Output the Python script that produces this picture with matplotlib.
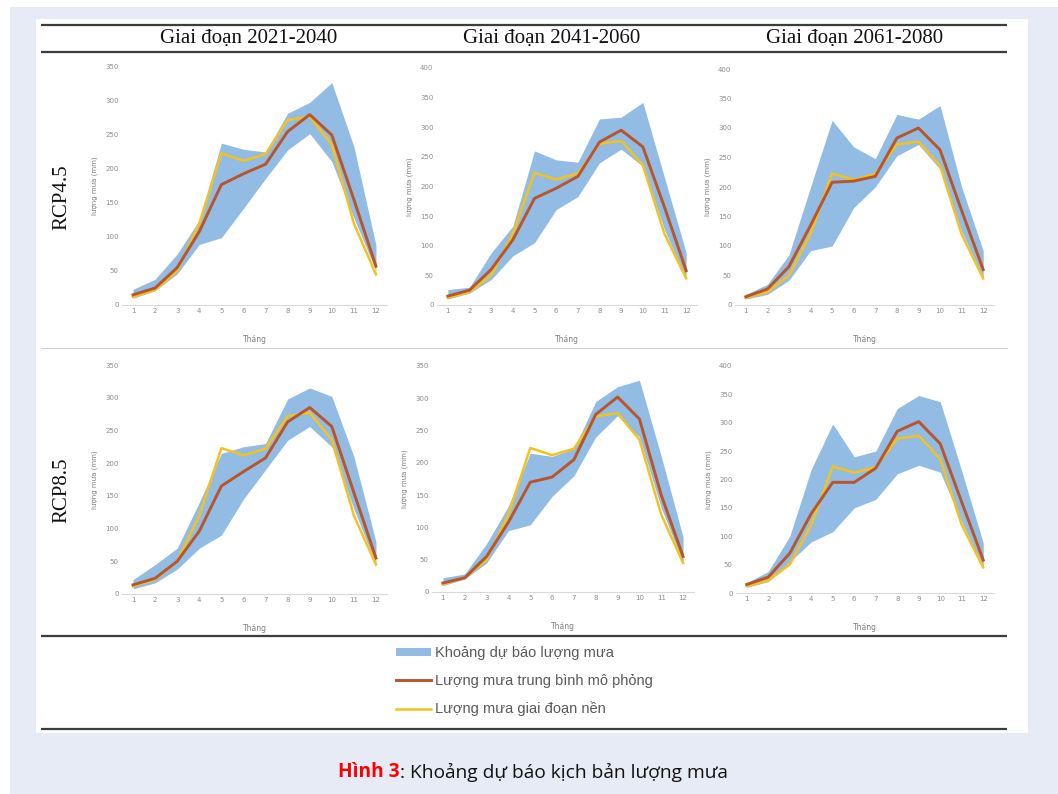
import matplotlib
matplotlib.use("Agg")
from matplotlib import pyplot as plt

W, H = 1058, 794

months = list(range(1, 13))
periods = ["Giai đoạn 2021-2040", "Giai đoạn 2041-2060", "Giai đoạn 2061-2080"]
scenarios = ["RCP4.5", "RCP8.5"]

# baseline rainfall (same in all panels)
baseline = [12, 22, 50, 120, 223, 212, 222, 272, 277, 236, 120, 45]

# RCP4.5
lo_45_a = [10, 21, 46, 89, 99, 142, 186, 228, 252, 211, 128, 50]
hi_45_a = [23, 38, 75, 125, 238, 229, 225, 282, 298, 327, 233, 88]
mean_45_a = [15, 25, 55, 108, 177, 193, 207, 255, 280, 250, 155, 57]

lo_45_b = [10, 20, 43, 83, 105, 161, 183, 240, 263, 234, 127, 43]
hi_45_b = [26, 30, 88, 133, 260, 245, 241, 314, 317, 342, 215, 88]
mean_45_b = [15, 25, 60, 110, 180, 197, 217, 275, 295, 267, 165, 58]

lo_45_c = [10, 18, 42, 92, 100, 165, 200, 253, 272, 230, 125, 45]
hi_45_c = [18, 35, 85, 200, 313, 268, 248, 323, 315, 338, 200, 92]
mean_45_c = [14, 27, 65, 135, 208, 210, 218, 283, 300, 263, 160, 60]

# RCP8.5
lo_85_a = [8, 17, 38, 70, 90, 145, 190, 235, 256, 225, 130, 45]
hi_85_a = [22, 45, 70, 140, 215, 225, 230, 298, 315, 302, 210, 80]
mean_85_a = [14, 24, 50, 96, 165, 187, 208, 263, 285, 256, 155, 55]

lo_85_b = [10, 20, 45, 95, 104, 148, 180, 240, 273, 240, 130, 45]
hi_85_b = [22, 28, 75, 133, 215, 210, 222, 295, 318, 328, 210, 85]
mean_85_b = [14, 22, 55, 108, 170, 178, 205, 275, 302, 268, 150, 55]

lo_85_c = [10, 20, 55, 90, 108, 150, 165, 210, 225, 213, 125, 45]
hi_85_c = [18, 38, 100, 218, 298, 240, 250, 325, 348, 337, 215, 88]
mean_85_c = [15, 28, 70, 140, 195, 195, 220, 285, 302, 263, 160, 58]

panels = [
    # (lo, hi, mean, ymax, x_left, x_right, y_bottom, y_top) in pixels
    (lo_45_a, hi_45_a, mean_45_a, 350, 122, 387, 305, 67),
    (lo_45_b, hi_45_b, mean_45_b, 400, 437, 697, 305, 68),
    (lo_45_c, hi_45_c, mean_45_c, 400, 735, 994, 305, 69),
    (lo_85_a, hi_85_a, mean_85_a, 350, 122, 387, 594, 365),
    (lo_85_b, hi_85_b, mean_85_b, 350, 432, 694, 592, 366),
    (lo_85_c, hi_85_c, mean_85_c, 400, 736, 994, 593, 366),
]

band_c = "#92bce4"
mean_c = "#b8552a"
base_c = "#f4c21f"
tick_c = "#8c8c8c"


def box(x0, y0, x1, y1):
    return [x0 / W, 1 - y1 / H, (x1 - x0) / W, (y1 - y0) / H]


fig = plt.figure(figsize=(W / 100, H / 100), dpi=100, facecolor="white")

# page background and layout, drawn in pixel coordinates
bg = fig.add_axes([0, 0, 1, 1], zorder=-5)
bg.set_xlim(0, W), bg.set_ylim(H, 0)
bg.axis("off")
bg.add_patch(plt.Rectangle((10, 7), W - 10, H - 7, color="#e7ebf6", lw=0))
bg.add_patch(plt.Rectangle((36, 19), 992, 714, color="white", lw=0))
for yy in [25, 52, 636, 729]:
    bg.plot([41, 1007], [yy, yy], color="#3c3c3c", lw=1.6, solid_capstyle="butt")
bg.plot([41, 1007], [348, 348], color="#cfcfcf", lw=0.8)

for i, p in enumerate(periods):
    bg.text([249, 552, 855][i], 38, p, family="Liberation Serif", fontsize=15,
            ha="center", va="center", color="#111111")
for i, s in enumerate(scenarios):
    bg.text(62, [197, 490][i], s, family="Liberation Serif", fontsize=15,
            rotation=90, ha="center", va="center", color="#111111")

handles = None
for lo, hi, mean, ymax, xl, xr, yb, yt in panels:
    ax = fig.add_axes(box(xl, yt, xr, yb))
    ax.patch.set_alpha(0)
    band = ax.fill_between(months, lo, hi, color=band_c, lw=0)
    l_base, = ax.plot(months, baseline, color=base_c, lw=1.8)
    l_mean, = ax.plot(months, mean, color=mean_c, lw=2.1)
    handles = [band, l_mean, l_base]

    ax.set_xlim(0.5, 12.5)
    ax.set_ylim(0, ymax)
    ax.set_xticks(months)
    ax.set_yticks(range(0, ymax + 1, 50))
    ax.tick_params(length=0, labelsize=5, labelcolor=tick_c, pad=2.5)
    for side in ["top", "right", "left"]:
        ax.spines[side].set_visible(False)
    ax.spines["bottom"].set_color("#d9d9d9")
    ax.spines["bottom"].set_linewidth(0.8)

    ax.set_xlabel("Tháng", fontsize=5.5, color="#7f7f7f")
    ax.xaxis.set_label_coords(0.5, -30 / (yb - yt))
    ax.set_ylabel("lượng mưa (mm)", fontsize=5, color="#7f7f7f")
    ax.yaxis.set_label_coords(-24 / (xr - xl), 0.5)

fig.legend(handles, ["Khoảng dự báo lượng mưa", "Lượng mưa trung bình mô phỏng",
                     "Lượng mưa giai đoạn nền"],
           loc="upper left", bbox_to_anchor=(390 / W, 1 - 640 / H),
           frameon=False, prop={"family": "Liberation Sans", "size": 10.5},
           labelcolor="#595959", handlelength=2.4, handleheight=0.5,
           handletextpad=0.3, labelspacing=0.95, borderaxespad=0)

# caption: red bold figure number followed by normal text
t1 = fig.text(338 / W, 1 - 772 / H, "Hình 3", family="Open Sans", fontsize=13.8,
              weight="bold", color="#ff0000", ha="left", va="center")
fig.canvas.draw()
ext = t1.get_window_extent()
fig.text(ext.x1 / W, 1 - 772 / H, ": Khoảng dự báo kịch bản lượng mưa",
         family="Open Sans", fontsize=13.8, color="#111111", ha="left", va="center")

plt.savefig("out.png", dpi=100, facecolor=fig.get_facecolor())
